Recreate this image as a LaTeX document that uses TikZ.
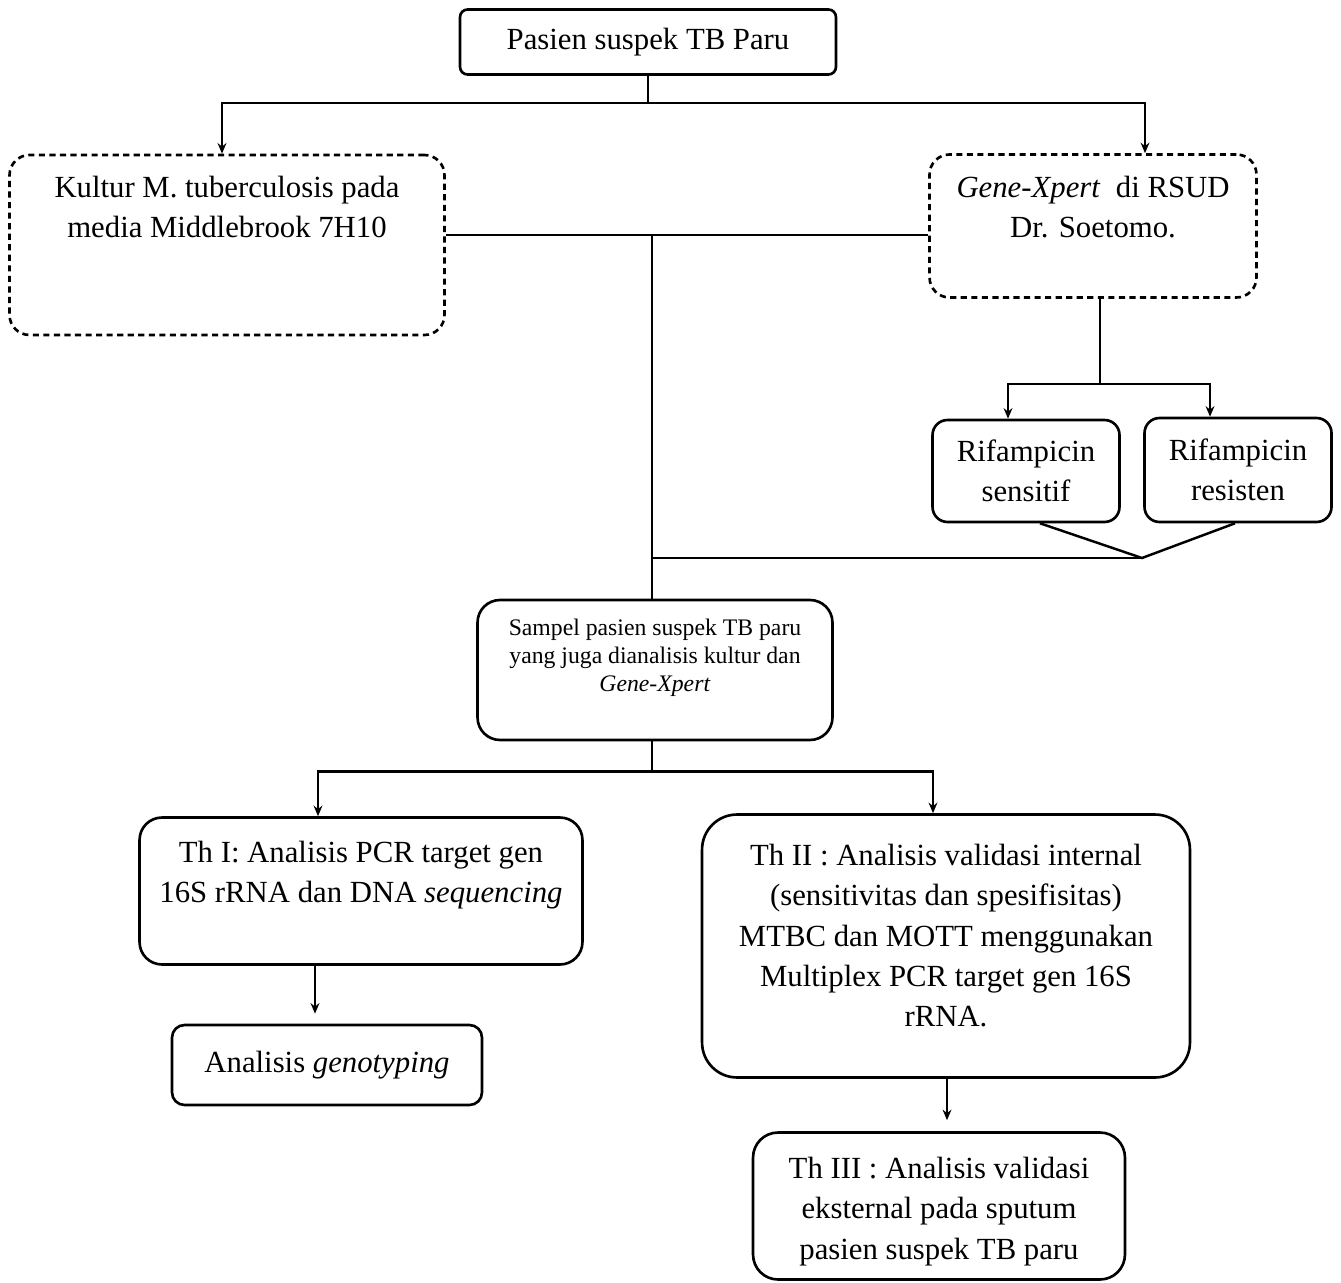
\documentclass[tikz,border=0pt]{standalone}
\usepackage{fontspec}
\setmainfont{Liberation Serif}
\usetikzlibrary{positioning, calc, arrows.meta}

\begin{document}
\begin{tikzpicture}[
    x=0.02cm, y=-0.02cm,              % <── one unit = one pixel of the sketch
    font=\fontsize{17.5}{22.8}\selectfont,
    box/.style={draw, rounded corners=0.4cm, line width=1.5pt},
    dbox/.style={box, dash pattern=on 3.5pt off 2.5pt},
    txt/.style={align=center, inner sep=0pt},
    small_txt/.style={txt, font=\fontsize{13.5}{16}\selectfont},
    link/.style={line width=1.4pt},
    arr/.style={link, -{Stealth[length=6pt, width=5pt]}}
    ]
    \useasboundingbox (0,0) rectangle (1341,1283);

    % Boxes
    \node[box, rounded corners=0.15cm, minimum width=7.52cm, minimum height=1.3cm] (top) at (648,42) {Pasien suspek TB Paru};
    \node[dbox, minimum width=8.7cm, minimum height=3.6cm] (kultur) at (227,245) {};
    \node[txt, below=0.44cm of kultur.north] (kultur_txt) {Kultur M. tuberculosis pada\\media Middlebrook 7H10};
    \node[dbox, minimum width=6.54cm, minimum height=2.86cm] (gene) at (1093,226) {};
    \node[txt, below=0.46cm of gene.north] (gene_txt) {\textit{Gene-Xpert}\ \ di RSUD\\Dr. Soetomo.};
    \node[box, rounded corners=0.3cm, minimum width=3.74cm, minimum height=2.04cm, align=center] (rif_s) at (1026,471) {Rifampicin\\sensitif};
    \node[box, rounded corners=0.3cm, minimum width=3.74cm, minimum height=2.08cm, align=center] (rif_r) at (1238,470) {Rifampicin\\resisten};
    \node[box, rounded corners=0.45cm, minimum width=7.1cm, minimum height=2.8cm] (sampel) at (655,670) {};
    \node[small_txt, below=0.4cm of sampel.north] (sampel_txt) {Sampel pasien suspek TB paru\\yang juga dianalisis kultur dan\\\textit{Gene-Xpert}};
    \node[box, rounded corners=0.45cm, minimum width=8.86cm, minimum height=2.94cm] (th1) at (361,891) {};
    \node[txt, below=0.5cm of th1.north] (th1_txt) {Th I: Analisis PCR target gen\\16S rRNA dan DNA \textit{sequencing}};
    \node[box, rounded corners=0.25cm, minimum width=6.2cm, minimum height=1.6cm] (geno) at (327,1065) {Analisis \textit{genotyping}};
    \node[box, rounded corners=0.7cm, minimum width=9.76cm, minimum height=5.26cm] (th2) at (946,946) {};
    \node[txt, below=0.62cm of th2.north] (th2_txt) {Th II : Analisis validasi internal\\(sensitivitas dan spesifisitas)\\MTBC dan MOTT menggunakan\\Multiplex PCR target gen 16S\\rRNA.};
    \node[box, rounded corners=0.5cm, minimum width=7.44cm, minimum height=2.94cm] (th3) at (939,1206) {};
    \node[txt, below=0.52cm of th3.north] (th3_txt) {Th III : Analisis validasi\\eksternal pada sputum\\pasien suspek TB paru};

    % Connectors
    \draw[link] (top.south) -- ++(0,27) coordinate (split_top);
    \draw[arr] (split_top) -| ($(kultur.north)+(-5,0)$);
    \draw[arr] (split_top) -| ($(gene.north)+(52,0)$);

    \coordinate (mid) at (652,235);
    \draw[link] (kultur.east |- mid) -- (gene.west |- mid);
    \draw[link] (mid) -- (mid |- sampel.north);

    \draw[link] ($(gene.south)+(7,0)$) -- ++(0,85) coordinate (split_rif);
    \draw[arr] (split_rif) -| ($(rif_s.north)+(-18,0)$);
    \draw[arr] (split_rif) -| ($(rif_r.north)+(-28,0)$);

    \coordinate (join_rif) at (1142,558);
    \draw[link] ($(rif_s.south)+(14,0)$) -- (join_rif) -- ($(rif_r.south)+(-3,0)$);
    \draw[link] (join_rif) -- (join_rif -| mid);

    \draw[link] (sampel.south -| mid) -- ++(0,30) coordinate (split_th);
    \draw[arr] (split_th) -| ($(th1.north)+(-43,0)$);
    \draw[arr] (split_th) -| ($(th2.north)+(-13,0)$);

    \draw[arr, shorten >=0.2cm] ($(th1.south)+(-46,0)$) -- ($(geno.north)+(-12,0)$);
    \draw[arr, shorten >=0.22cm] ($(th2.south)+(1,0)$) -- ($(th3.north)+(8,0)$);
\end{tikzpicture}
\end{document}
